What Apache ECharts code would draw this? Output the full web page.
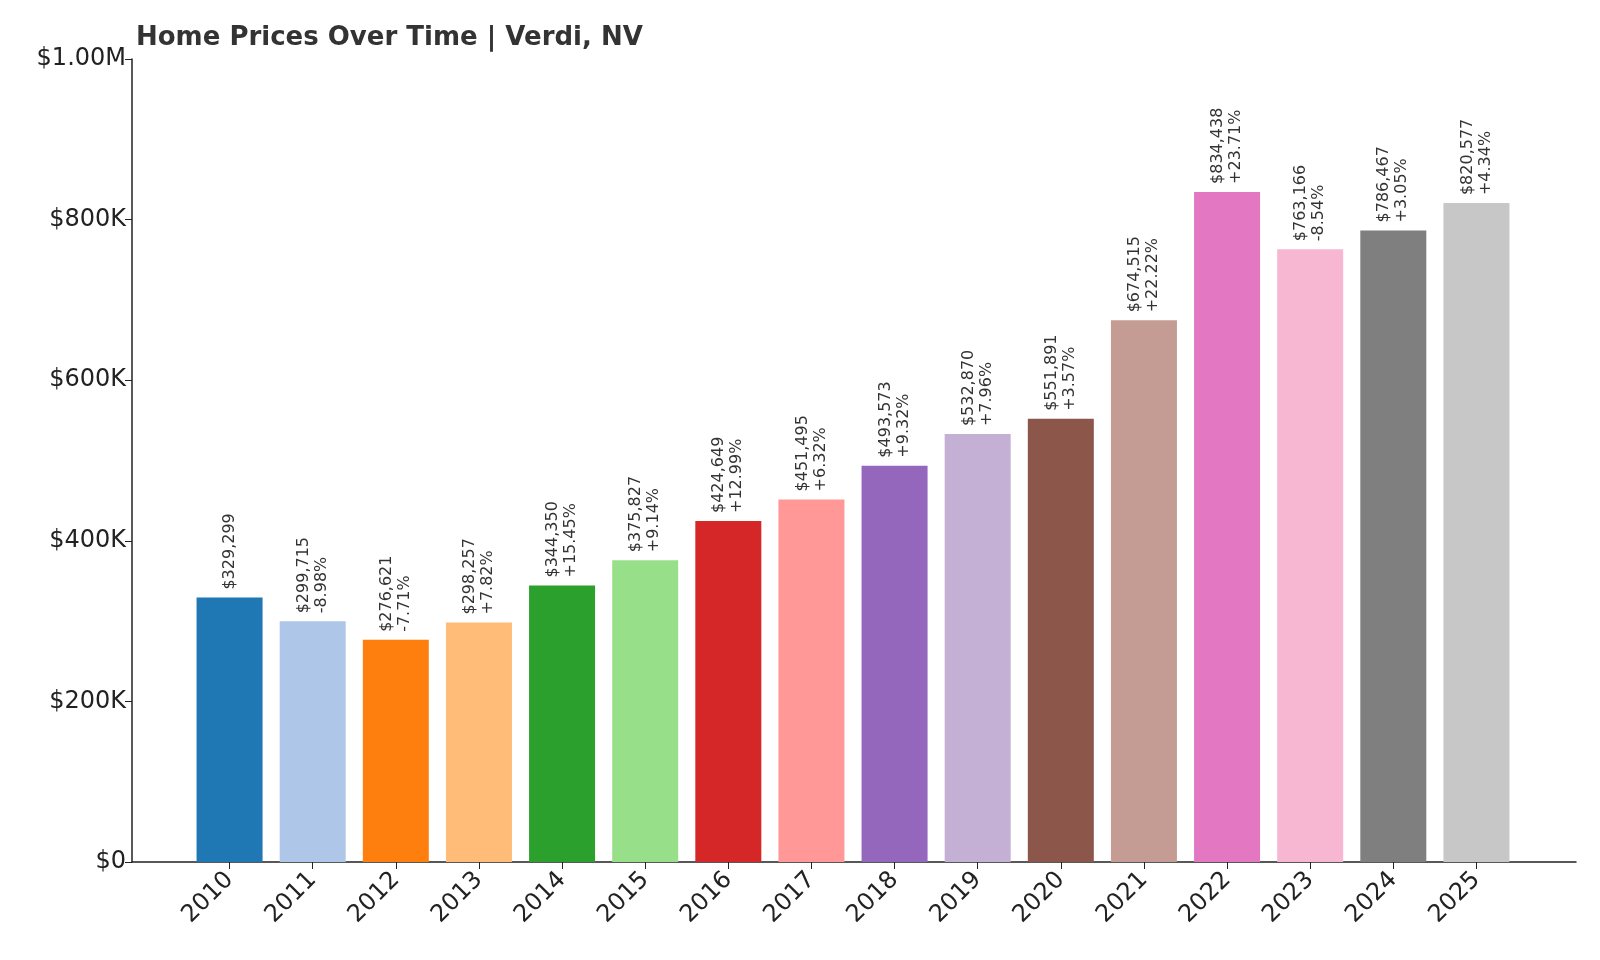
<!DOCTYPE html>
<html><head><meta charset="utf-8">
<script src="https://cdn.jsdelivr.net/npm/echarts@6/dist/echarts.min.js"></script>
<style>html,body{margin:0;padding:0;background:#fff}#c{width:1600px;height:960px}</style>
</head><body><div id="c"></div>
<script>
const years = ['2010','2011','2012','2013','2014','2015','2016','2017','2018','2019','2020','2021','2022','2023','2024','2025'];
const prices = [329299,299715,276621,298257,344350,375827,424649,451495,493573,532870,551891,674515,834438,763166,786467,820577];
const changes = ['','-8.98%','-7.71%','+7.82%','+15.45%','+9.14%','+12.99%','+6.32%','+9.32%','+7.96%','+3.57%','+22.22%','+23.71%','-8.54%','+3.05%','+4.34%'];
const colors = ['#1f77b4','#aec7e8','#ff7f0e','#ffbb78','#2ca02c','#98df8a','#d62728','#ff9896','#9467bd','#c5b0d5','#8c564b','#c49c94','#e377c2','#f7b6d2','#7f7f7f','#c7c7c7'];
const yTicks = {0:'$0',200000:'$200K',400000:'$400K',600000:'$600K',800000:'$800K',1000000:'$1.00M'};
const font = 'DejaVu Sans';
const chart = echarts.init(document.getElementById('c'));
chart.setOption({
  animation:false,
  title:{text:'Home Prices Over Time | Verdi, NV',left:131,top:20,textStyle:{fontFamily:font,fontWeight:'bold',fontSize:26,color:'#333'}},
  grid:[{left:132,right:24,top:59,bottom:98},{left:188,width:1330,top:59,bottom:98}],
  xAxis:[
    {gridIndex:0,type:'value',min:0,max:1,axisLine:{show:true,lineStyle:{color:'#222',width:1.5}},axisTick:{show:false},axisLabel:{show:false},splitLine:{show:false}},
    {gridIndex:1,type:'category',data:years,axisLine:{show:false},axisTick:{show:true,alignWithLabel:true,length:7,lineStyle:{color:'#222'}},
     axisLabel:{rotate:45,fontFamily:font,fontSize:24,color:'#222',margin:14}}
  ],
  yAxis:[
    {gridIndex:0,type:'value',min:0,max:1000000,interval:200000,axisLine:{show:true,lineStyle:{color:'#222',width:1.5}},
     axisTick:{show:true,length:7,lineStyle:{color:'#222'}},splitLine:{show:false},
     axisLabel:{fontFamily:font,fontSize:24,color:'#222',margin:6,formatter:v=>yTicks[v]}},
    {gridIndex:1,type:'value',min:0,max:1000000,show:false}
  ],
  series:[{type:'bar',xAxisIndex:1,yAxisIndex:1,barWidth:66,
    data:prices.map((v,i)=>({value:v,itemStyle:{color:colors[i]}})),
    label:{show:true,position:'top',rotate:90,align:'left',verticalAlign:'middle',distance:8,
      fontFamily:font,fontSize:16,color:'#333',lineHeight:18,
      formatter:p=>'$'+p.value.toLocaleString('en-US')+(changes[p.dataIndex]?'\n'+changes[p.dataIndex]:'')}
  }]
});
</script></body></html>
